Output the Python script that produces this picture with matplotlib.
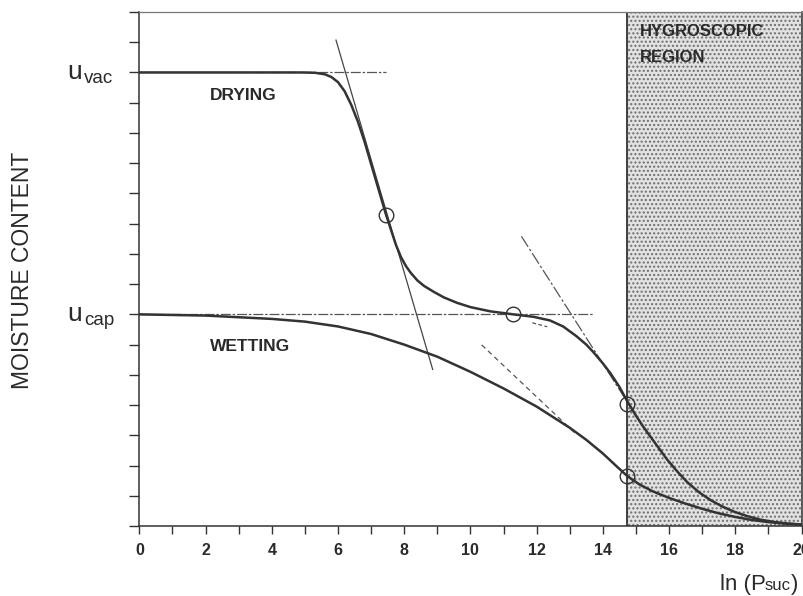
import numpy as np
import matplotlib
matplotlib.use("Agg")
import matplotlib.pyplot as plt

plt.rcParams["font.family"] = ["Liberation Sans", "DejaVu Sans"]
plt.rcParams["hatch.linewidth"] = 1.0

# curvas (x = ln(P_suc), y = contenido de humedad)
drying_x = [0, 4.9, 5.3, 5.6, 5.8, 6.0, 6.2, 6.4, 6.6, 6.8, 7.1, 7.45, 7.6, 7.75, 7.9,
            8.05, 8.2, 8.4, 8.6, 8.9, 9.2, 9.6, 10.0, 10.6, 11.3, 11.9, 12.4, 12.8,
            13.2, 13.5, 13.73, 14.0, 14.23, 14.5, 14.74, 15.0, 15.23, 15.5, 15.94,
            16.25, 16.55, 16.9, 17.25, 17.6, 17.95, 18.35, 18.76, 19.2, 19.6, 20.0]
drying_y = [15, 15, 14.99, 14.94, 14.85, 14.68, 14.38, 13.93, 13.38, 12.72, 11.6, 10.3,
            9.8, 9.3, 8.9, 8.6, 8.37, 8.12, 7.94, 7.74, 7.56, 7.38, 7.24, 7.1, 7.0,
            6.92, 6.8, 6.6, 6.28, 6.0, 5.73, 5.38, 5.05, 4.6, 4.12, 3.65, 3.27, 2.86,
            2.2, 1.8, 1.45, 1.12, 0.86, 0.65, 0.48, 0.33, 0.21, 0.13, 0.08, 0.05]

wetting_x = [0, 2, 4, 5, 6, 7, 8, 9, 10, 11, 12, 13, 13.5, 14, 14.4, 14.74, 15.1, 15.5,
             16, 16.5, 17, 17.5, 18, 18.5, 19, 19.5, 20]
wetting_y = [7.0, 6.96, 6.85, 6.76, 6.6, 6.35, 6.0, 5.6, 5.1, 4.55, 3.95, 3.25, 2.85,
             2.4, 1.99, 1.65, 1.38, 1.15, 0.93, 0.74, 0.57, 0.42, 0.3, 0.2, 0.13, 0.08,
             0.05]

# puntos marcados con circulos
circ_x = [7.45, 11.3, 14.74, 14.74]
circ_y = [10.3, 7.0, 4.05, 1.64]

# niveles de referencia
u_vac, u_cap = 15, 7
vac_line_end = 7.46
cap_line_end = 13.7

# tangentes
tan1_x, tan1_y = [5.94, 8.86], [16.07, 5.18]
tan2_x, tan2_y = [11.54, 14.74], [9.58, 4.1]
tan3_x, tan3_y = [10.34, 13.2], [5.99, 3.03]
tan4_x, tan4_y = [11.87, 12.32], [6.72, 6.59]

hygro_start = 14.72
x_max, y_max = 20, 17

ink = "#333333"
txt = "#2a2a2a"

fig = plt.figure(figsize=(8.04, 5.96), dpi=100)
ax = fig.add_axes([0.1733, 0.1174, 0.8236, 0.8625])

# region higroscopica
ax.axvspan(hygro_start, x_max, facecolor="#e2e2e2", edgecolor="#6e6e6e",
           hatch="....", linewidth=0, zorder=0)
ax.axvline(hygro_start, color=ink, lw=1.3, zorder=1)

# lineas de referencia
ax.plot([0, vac_line_end], [u_vac, u_vac], color="#555555", lw=0.9,
        linestyle=(0, (8, 1.5, 2, 1.5)), zorder=2)
ax.plot([0, cap_line_end], [u_cap, u_cap], color="#555555", lw=0.9,
        linestyle=(0, (8, 1.5, 2, 1.5)), zorder=2)
ax.plot(tan1_x, tan1_y, color="#444444", lw=0.9, zorder=2)
ax.plot(tan2_x, tan2_y, color="#555555", lw=0.9,
        linestyle=(0, (10, 2, 2, 2)), zorder=2)
ax.plot(tan3_x, tan3_y, color="#555555", lw=0.9, linestyle=(0, (4, 3)), zorder=2)
ax.plot(tan4_x, tan4_y, color="#555555", lw=0.9, linestyle=(0, (3, 2)), zorder=2)

# curvas
ax.plot(drying_x, drying_y, color=ink, lw=1.8, zorder=3, solid_joinstyle="round")
ax.plot(wetting_x, wetting_y, color=ink, lw=1.8, zorder=3, solid_joinstyle="round")
ax.plot(circ_x, circ_y, "o", ms=10.5, mfc="none", mec=ink, mew=1.0, zorder=4)

# textos
ax.text(2.12, 14.25, "DRYING", fontsize=12.5, fontweight="bold", color=txt,
        va="center", ha="left")
ax.text(2.12, 5.95, "WETTING", fontsize=12.5, fontweight="bold", color=txt,
        va="center", ha="left")
ax.text(15.13, 16.35, "HYGROSCOPIC", fontsize=12, fontweight="bold", color=txt,
        va="center", ha="left")
ax.text(15.13, 15.5, "REGION", fontsize=12, fontweight="bold", color=txt,
        va="center", ha="left")

for lev, sub in [(u_vac, "vac"), (u_cap, "cap")]:
    ax.annotate("u", xy=(0, lev), xycoords=("axes fraction", "data"),
                xytext=(-52, -5), textcoords="offset points", fontsize=19,
                color=txt, va="baseline", ha="left", annotation_clip=False)
    ax.annotate(sub, xy=(0, lev), xycoords=("axes fraction", "data"),
                xytext=(-40, -7.5), textcoords="offset points", fontsize=13.5,
                color=txt, va="baseline", ha="left", annotation_clip=False)

fig.text(23 / 804, 1 - 270 / 596, "MOISTURE CONTENT", rotation=90, fontsize=16.5,
         color=txt, ha="center", va="center")

# etiqueta del eje x: ln (P_suc)
xl = fig.text(720 / 804, 1 - 590 / 596, "ln (P", fontsize=16, color=txt,
              ha="left", va="baseline")
xs = fig.text(0, 0, "suc", fontsize=12, color=txt, ha="left", va="baseline")
fig.canvas.draw()
bb = xl.get_window_extent()
xs.set_position(((bb.x1 - 1) / fig.bbox.width, (6.0) / fig.bbox.height))
fig.canvas.draw()
bs = xs.get_window_extent()
fig.text((bs.x1 + 0.5) / fig.bbox.width, 1 - 590 / 596, ")", fontsize=16,
         color=txt, ha="left", va="baseline")

# ejes
ax.set_xlim(0, x_max)
ax.set_ylim(0, y_max)
ax.set_xticks(np.arange(0, x_max + 1, 2))
ax.set_xticks(np.arange(1, x_max, 2), minor=True)
ax.set_yticks(np.arange(0, y_max + 1, 1))
ax.set_yticklabels([])
ax.tick_params(axis="x", which="both", direction="out", length=6, width=1,
               color=ink, labelsize=11.5, labelcolor=txt, pad=6)
for lab in ax.get_xticklabels():
    lab.set_fontweight("bold")
ax.tick_params(axis="y", direction="out", length=7, width=1, color=ink)
for s in ax.spines.values():
    s.set_color(ink)
    s.set_linewidth(1.1)
ax.spines["top"].set_color("#777777")
ax.spines["top"].set_linewidth(0.9)

fig.savefig("out.png", dpi=100)
